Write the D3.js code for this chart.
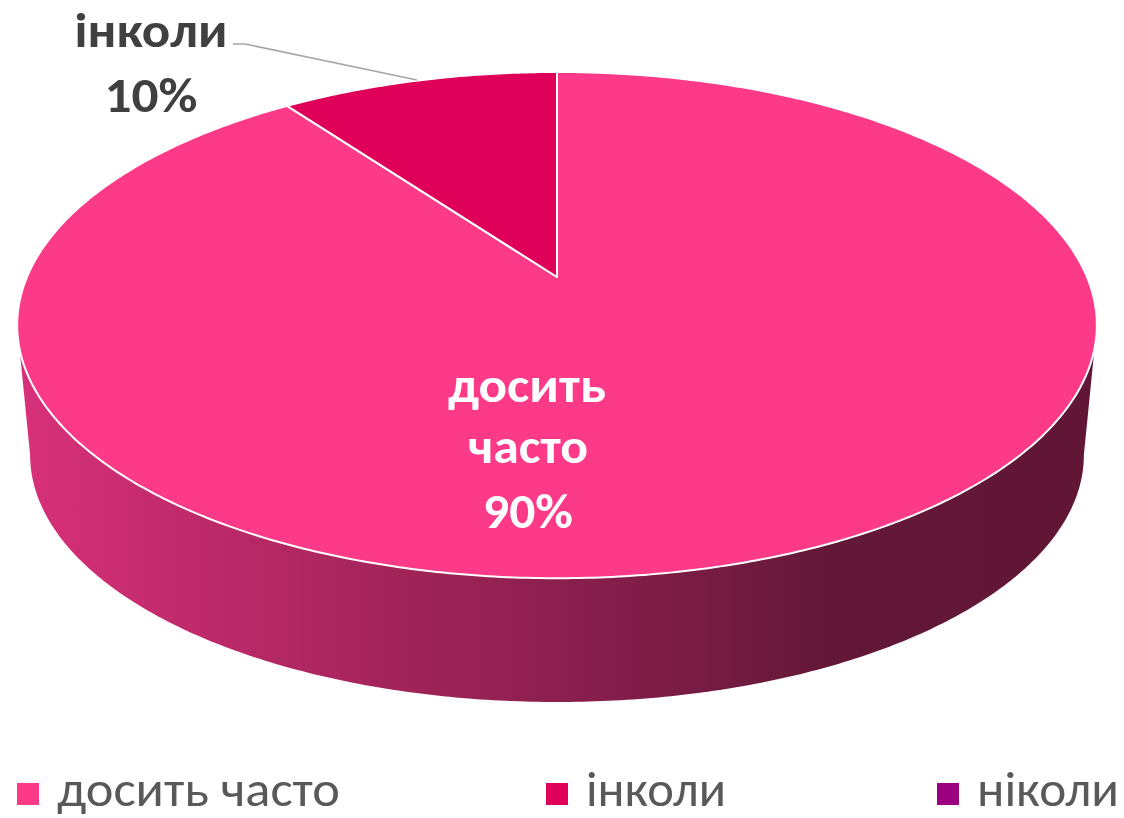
<!DOCTYPE html>
<html>
<head>
<meta charset="utf-8">
<script src="https://cdn.jsdelivr.net/npm/d3@7"></script>
<style>
  body { margin: 0; background: #fff; }
  svg { display: block; font-family: Carlito, Calibri, Lato, "Open Sans", sans-serif; }
</style>
</head>
<body>
<svg id="pie3d" width="1124" height="818"></svg>
<script>
// ************************************
// Data
// ************************************
const categories = ["досить часто", "інколи", "ніколи"];
const values = [90, 10, 0];
const percentLabels = ["90%", "10%", "0%"];
const colors = ["#fd3a88", "#df005a", "#9b0081"];

// ************************************
// Setup
// ************************************
const svg = d3.select("#pie3d");

// perspective of the tilted disc (fitted to the picture)
const cx = 557, cy = 277;        // projected centre of the pie
const ax = 530, by = 244;        // horizontal / vertical radius factors
const persp = 0.19;              // perspective strength
const depth = 131, bottomScale = 0.976;

// angle -> screen point on top (level 0) or bottom (level 1) face
function proj(a, level) {
    const u = Math.sin(a), v = Math.cos(a);
    const w = 1 + persp * v;
    const s = level ? bottomScale : 1;
    return [cx + s * ax * u / w, cy + (level ? depth : 0) - s * by * v / w];
}

function arcPoints(a0, a1, level) {
    const n = Math.max(2, Math.ceil(Math.abs(a1 - a0) / 0.01));
    return d3.range(n + 1).map(i => proj(a0 + (a1 - a0) * i / n, level));
}

const pie = d3.pie().sort(null).value(d => d)(values);

// gradient for the side wall
const defs = svg.append("defs");
const grad = defs.append("linearGradient")
    .attr("id", "sideGrad")
    .attr("gradientUnits", "userSpaceOnUse")
    .attr("x1", 17).attr("x2", 1097).attr("y1", 0).attr("y2", 0);
[[0, "#d8307a"], [0.35, "#a22459"], [0.5, "#8c1f4e"], [0.75, "#641838"], [1, "#621636"]]
    .forEach(([o, c]) => grad.append("stop").attr("offset", o).attr("stop-color", c));

const line = d3.line();

// side wall: front half between silhouette angles
const silA = Math.acos(-persp);
const sideTop = arcPoints(silA, 2 * Math.PI - silA, 0);
const sideBottom = arcPoints(2 * Math.PI - silA, silA, 1);
svg.append("path")
    .attr("d", line(sideTop.concat(sideBottom)) + "Z")
    .attr("fill", "url(#sideGrad)");

// top faces of the slices
pie.forEach((d, i) => {
    if (d.endAngle - d.startAngle <= 0) return;
    const pts = [[cx, cy]].concat(arcPoints(d.startAngle, d.endAngle, 0));
    svg.append("path")
        .attr("d", line(pts) + "Z")
        .attr("fill", colors[i])
        .attr("stroke", "#fff")
        .attr("stroke-width", 2)
        .attr("stroke-linejoin", "round");
});

// ************************************
// Labels
// ************************************
// big slice, inside
const inner = svg.append("g")
    .attr("fill", "#fff")
    .attr("font-weight", "bold")
    .attr("font-size", 49)
    .attr("text-anchor", "middle");
inner.append("text").attr("x", 527).attr("y", 402)
    .attr("textLength", 158).attr("lengthAdjust", "spacingAndGlyphs").text("досить");
inner.append("text").attr("x", 528).attr("y", 463)
    .attr("textLength", 120).attr("lengthAdjust", "spacingAndGlyphs").text("часто");
inner.append("text").attr("x", 528).attr("y", 528)
    .attr("textLength", 90).attr("lengthAdjust", "spacingAndGlyphs").text(percentLabels[0]);

// small slice, outside with leader line
svg.append("polyline")
    .attr("points", "233,44 245,44 417,80")
    .attr("fill", "none")
    .attr("stroke", "#a6a6a6")
    .attr("stroke-width", 1.5);

const outer = svg.append("g")
    .attr("fill", "#404040")
    .attr("font-weight", "bold")
    .attr("font-size", 49)
    .attr("text-anchor", "middle");
outer.append("text").attr("x", 151).attr("y", 47)
    .attr("textLength", 153).attr("lengthAdjust", "spacingAndGlyphs").text(categories[1]);
outer.append("text").attr("x", 151).attr("y", 112)
    .attr("textLength", 93).attr("lengthAdjust", "spacingAndGlyphs").text(percentLabels[1]);

// ************************************
// Legend
// ************************************
const legendX = [17, 546, 937];
const legendTextW = [283, 140, 142];
const legend = svg.selectAll(".legend")
    .data(categories)
    .enter()
    .append("g")
    .attr("class", "legend")
    .attr("transform", (d, i) => `translate(${legendX[i]},0)`);

legend.append("rect")
    .attr("x", 0).attr("y", 783)
    .attr("width", 22).attr("height", 22)
    .attr("fill", (d, i) => colors[i]);

legend.append("text")
    .attr("x", 40).attr("y", 806)
    .attr("font-size", 50)
    .attr("fill", "#595959")
    .attr("textLength", (d, i) => legendTextW[i])
    .attr("lengthAdjust", "spacingAndGlyphs")
    .text(d => d);
</script>
</body>
</html>
